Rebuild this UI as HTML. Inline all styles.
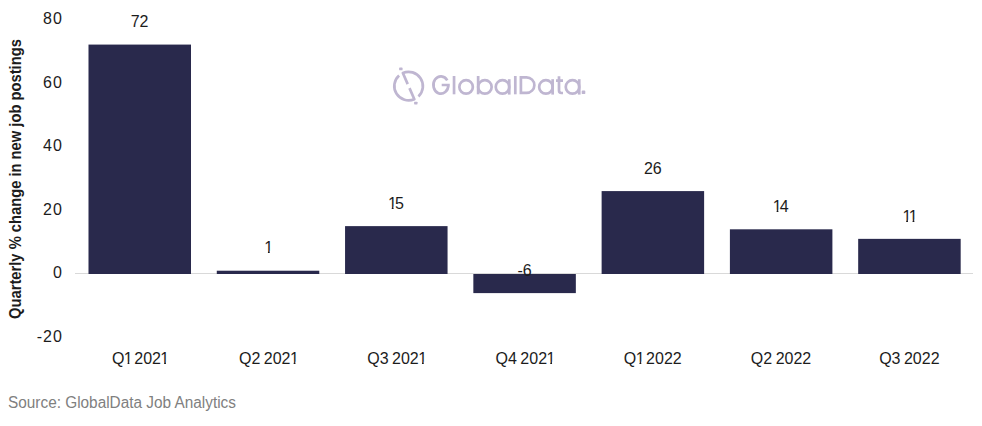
<!DOCTYPE html>
<html><head><meta charset="utf-8">
<style>
html,body{margin:0;padding:0;background:#fff;}
body{width:982px;height:426px;position:relative;overflow:hidden;font-family:"Liberation Sans",sans-serif;}
svg{position:absolute;left:0;top:0;}
.t{position:absolute;font-size:16px;line-height:18px;color:#1c1c1c;white-space:nowrap;}
.yl{left:20.8px;width:42px;text-align:right;letter-spacing:1px;}
.xl{top:350.3px;width:100px;text-align:center;word-spacing:-1px;}
.vl{width:100px;text-align:center;}
.one{display:inline-block;width:6.4px;text-indent:-0.6px;clip-path:polygon(-2px 0,10px 0,10px 11.5px,5.0px 11.5px,5.0px 100%,3.2px 100%,3.2px 11.5px,-2px 11.5px);}
.title{position:absolute;left:0;top:0;font-weight:bold;font-size:16px;line-height:18px;color:#1c1c1c;transform-origin:0 0;white-space:nowrap;transform:translate(6.5px,318.9px) rotate(-90deg) scaleX(0.92);}
.src{position:absolute;left:7.6px;top:394.2px;font-size:16px;line-height:18px;color:#808080;white-space:nowrap;transform-origin:0 0;transform:scaleX(0.96);}
</style></head><body>
<svg width="982" height="426" viewBox="0 0 982 426">
<path d="M407.72,84.09 L402.85,73.01 A14.3,14.3 0 0 1 418.46,96.46" fill="none" stroke="#bfb6d1" stroke-width="2.7" stroke-linejoin="round"/>
<path d="M409.48,88.11 L414.35,99.19 A14.3,14.3 0 0 1 399.09,75.42" fill="none" stroke="#bfb6d1" stroke-width="2.7" stroke-linejoin="round"/>
<rect x="399.15" y="67.55" width="3.4" height="2.7" rx="0.6" fill="#bfb6d1"/>
<rect x="414.10" y="101.75" width="3.4" height="2.7" rx="0.6" fill="#bfb6d1"/>
<path d="M447.26,80.42 A7.5,8.65 0 1 0 448.40,85.00 M441.70,85.00 L449.75,85.00" fill="none" stroke="#bfb6d1" stroke-width="2.7"/>
<path d="M454.05,76 L454.05,94.3" fill="none" stroke="#bfb6d1" stroke-width="2.7"/>
<circle cx="466.1" cy="86.9" r="6.75" fill="none" stroke="#bfb6d1" stroke-width="2.7"/>
<path d="M478.15,76 L478.15,94.3" fill="none" stroke="#bfb6d1" stroke-width="2.7"/><circle cx="484.9" cy="86.9" r="6.75" fill="none" stroke="#bfb6d1" stroke-width="2.7"/>
<circle cx="502.50" cy="86.9" r="6.75" fill="none" stroke="#bfb6d1" stroke-width="2.7"/><path d="M509.25,79.2 L509.25,94.6" fill="none" stroke="#bfb6d1" stroke-width="2.7"/>
<circle cx="545.90" cy="86.9" r="6.75" fill="none" stroke="#bfb6d1" stroke-width="2.7"/><path d="M552.65,79.2 L552.65,94.6" fill="none" stroke="#bfb6d1" stroke-width="2.7"/>
<circle cx="572.50" cy="86.9" r="6.75" fill="none" stroke="#bfb6d1" stroke-width="2.7"/><path d="M579.25,79.2 L579.25,94.6" fill="none" stroke="#bfb6d1" stroke-width="2.7"/>
<path d="M515.3,76 L515.3,94.3" fill="none" stroke="#bfb6d1" stroke-width="2.7"/>
<path d="M520.9,77.35 L520.9,92.95 L526.55,92.95 A7.8,7.8 0 0 0 526.55,77.35 Z" fill="none" stroke="#bfb6d1" stroke-width="2.7" stroke-linejoin="miter"/>
<path d="M559,76.3 L559,90.6 Q559,93 561.4,93 L563,93 M556,80.6 L563,80.6" fill="none" stroke="#bfb6d1" stroke-width="2.7"/>
<rect x="581.7" y="90.5" width="3.6" height="3.6" rx="0.9" fill="#bfb6d1"/>
<rect x="75" y="273" width="898" height="1" fill="#d9d9d9"/>
<rect x="88.50" y="44.58" width="102.50" height="229.42" fill="#29294c"/>
<rect x="216.78" y="270.71" width="102.50" height="3.29" fill="#29294c"/>
<rect x="345.06" y="226.12" width="102.50" height="47.88" fill="#29294c"/>
<rect x="473.34" y="274.00" width="102.50" height="19.11" fill="#29294c"/>
<rect x="601.62" y="191.09" width="102.50" height="82.91" fill="#29294c"/>
<rect x="729.90" y="229.31" width="102.50" height="44.69" fill="#29294c"/>
<rect x="858.18" y="238.86" width="102.50" height="35.14" fill="#29294c"/>
</svg>
<div class="t yl" style="top:10.00px">80</div><div class="t yl" style="top:73.58px">60</div><div class="t yl" style="top:137.16px">40</div><div class="t yl" style="top:200.74px">20</div><div class="t yl" style="top:264.32px">0</div><div class="t yl" style="top:327.90px">-20</div><div class="t xl" style="left:89.64px">Q<span class="one">1</span> 202<span class="one">1</span></div><div class="t xl" style="left:217.93px">Q2 202<span class="one">1</span></div><div class="t xl" style="left:346.21px">Q3 202<span class="one">1</span></div><div class="t xl" style="left:474.50px">Q4 202<span class="one">1</span></div><div class="t xl" style="left:602.79px">Q<span class="one">1</span> 2022</div><div class="t xl" style="left:731.07px">Q2 2022</div><div class="t xl" style="left:859.36px">Q3 2022</div><div class="t vl" style="left:89.64px;top:13.00px">72</div><div class="t vl" style="left:217.93px;top:239.20px"><span class="one">1</span></div><div class="t vl" style="left:346.21px;top:195.20px"><span class="one">1</span>5</div><div class="t vl" style="left:474.50px;top:262.10px">-6</div><div class="t vl" style="left:602.79px;top:160.40px">26</div><div class="t vl" style="left:731.07px;top:198.20px"><span class="one">1</span>4</div><div class="t vl" style="left:859.36px;top:208.20px"><span class="one">1</span><span class="one">1</span></div>
<div class="title">Quarterly % change in new job postings</div>
<div class="src">Source: GlobalData Job Analytics</div>
</body></html>
